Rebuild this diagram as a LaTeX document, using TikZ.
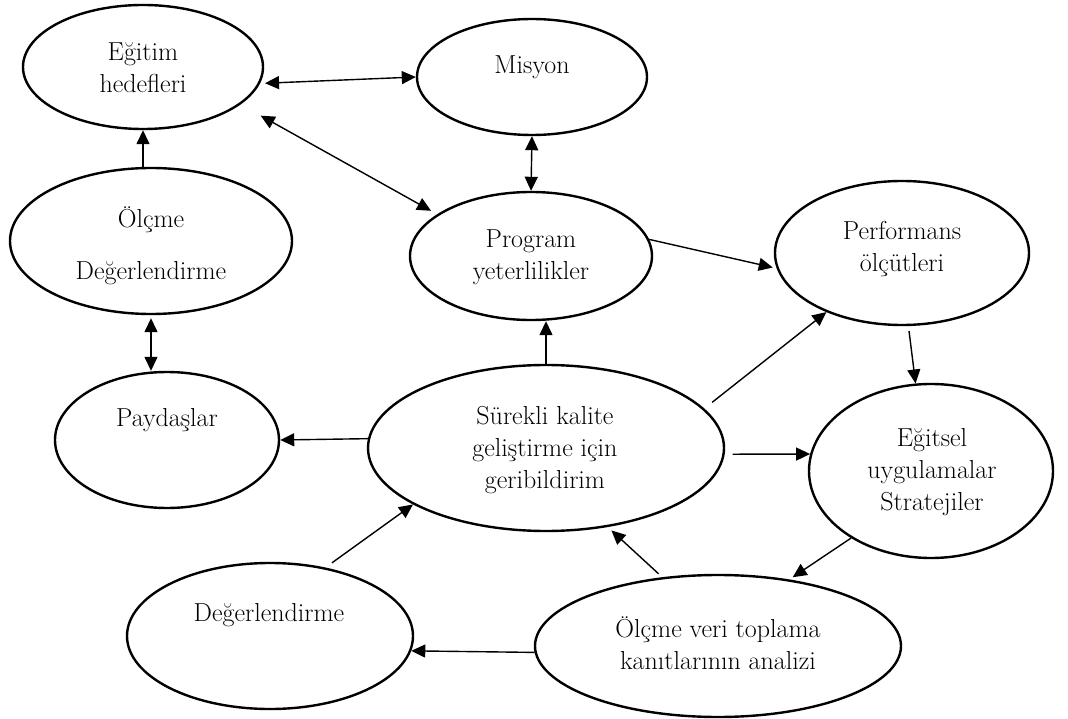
\documentclass[tikz,border=0pt]{standalone}
\usepackage{fontspec}
\usepackage{tikz}
\usetikzlibrary{shapes.geometric, arrows.meta}

\begin{document}
\begin{tikzpicture}[x=1pt, y=-1pt,
    oval/.style={ellipse, draw=black, line width=2.4pt, inner sep=0pt},
    lbl/.style={align=center, inner sep=0pt, font=\fontsize{26}{32}\selectfont},
    link/.style={line width=1.4pt, -{Triangle[length=14pt, width=13pt]}},
    both/.style={line width=1.4pt, {Triangle[length=14pt, width=13pt]}-{Triangle[length=14pt, width=13pt]}}]
    \useasboundingbox (0,0) rectangle (1068,719);

    % ellipses
    \node[oval, minimum width=240, minimum height=124](egitim) at (143, 67) {};
    \node[oval, minimum width=230, minimum height=116](misyon) at (532, 77) {};
    \node[oval, minimum width=282, minimum height=146](olcme) at (151, 241) {};
    \node[oval, minimum width=242, minimum height=128](program) at (531, 256) {};
    \node[oval, minimum width=254, minimum height=144](perf) at (902, 253) {};
    \node[oval, minimum width=224, minimum height=136](paydas) at (167, 440) {};
    \node[oval, minimum width=356, minimum height=166](sure) at (546, 448) {};
    \node[oval, minimum width=244, minimum height=174](egitsel) at (931, 471) {};
    \node[oval, minimum width=286, minimum height=146](deger) at (270, 636) {};
    \node[oval, minimum width=366, minimum height=142](veri) at (718, 646) {};

    % texts
    \node[lbl](egitim-t) at (143, 68) {Eğitim\\hedefleri};
    \node[lbl](misyon-t) at (532, 67) {Misyon};
    \node[lbl](olcme-t) at (151, 246) {Ölçme\\[20pt]Değerlendirme};
    \node[lbl](program-t) at (531, 257) {Program\\yeterlilikler};
    \node[lbl](perf-t) at (902, 249) {Performans\\ölçütleri};
    \node[lbl](paydas-t) at (167, 420) {Paydaşlar};
    \node[lbl](sure-t) at (545, 450) {Sürekli kalite\\geliştirme için\\geribildirim};
    \node[lbl](egitsel-t) at (932, 472) {Eğitsel\\uygulamalar\\Stratejiler};
    \node[lbl](deger-t) at (269, 615) {Değerlendirme};
    \node[lbl](veri-t) at (718, 643) {Ölçme veri toplama\\kanıtlarının analizi};

    % connectors
    \draw[both, shorten <=5pt] (egitim.-8) to (misyon.180);
    \draw[both, shorten <=23pt, shorten >=7pt] (egitim.-21.5) to (program.156);
    \draw[both] (misyon.south) to (program.north);
    \draw[link] (egitim.south |- olcme.north) to (egitim.south);
    \draw[both, shorten <=3pt] (olcme.south) to (olcme.south |- paydas.north);
    \draw[link, shorten >=4pt] (program.8) to (perf.187);
    \draw[link] (sure.north) to (sure.north |- program.south);
    \draw[link, shorten <=10pt] (sure.14) to (perf.218);
    \draw[link, shorten <=5pt] (perf.-85) to (egitsel.100);
    \draw[link] (sure.177) to (paydas.east);
    \draw[link, shorten <=8pt] (sure.-2) to (egitsel.172);
    \draw[link, shorten <=8pt] (deger.51) to (sure.203);
    \draw[link, shorten >=4pt] (egitsel.220) to (veri.43);
    \draw[link, shorten <=5pt, shorten >=5pt] (veri.129) to (sure.-52);
    \draw[link] (veri.182) to (deger.-6);
\end{tikzpicture}
\end{document}
